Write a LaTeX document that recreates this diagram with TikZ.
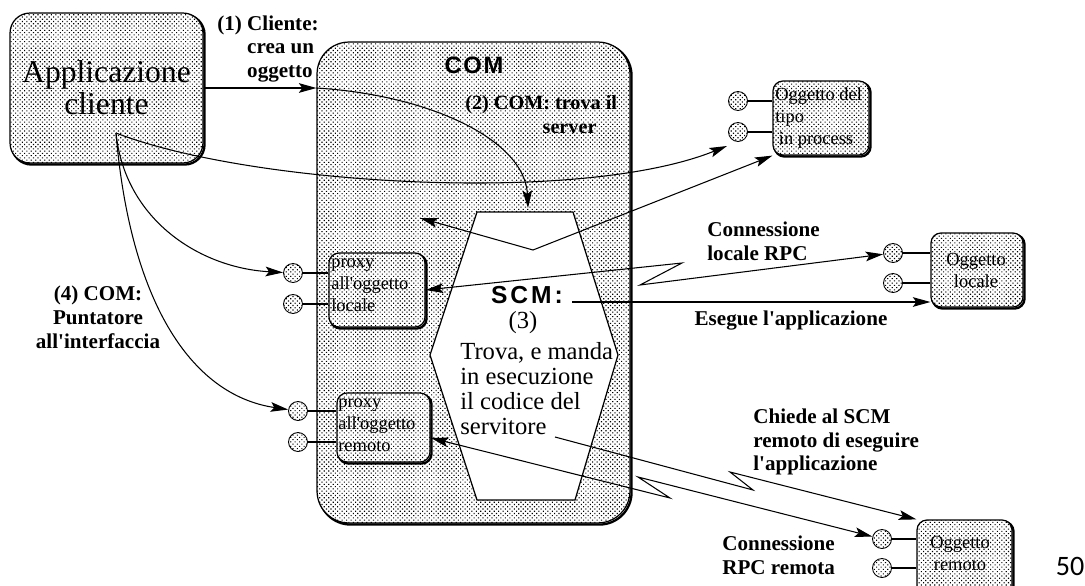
\documentclass[tikz,border=0pt]{standalone}
\usepackage{fontspec}
\setmainfont{Liberation Serif}[Ligatures=TeXOff]
\newfontfamily\headsans{Liberation Sans}[Ligatures=TeXOff]
\newfontfamily\slidenum{Carlito}
\usetikzlibrary{arrows.meta,patterns.meta}

\tikzset{
  tip/.tip={Stealth[length=10pt,width=5.5pt,inset=2pt]},
  arr/.style={line width=0.6pt, -tip},
  arrb/.style={line width=0.6pt, tip-tip},
  stem/.style={line width=0.6pt},
  dots/.style={pattern={Dots[angle=45,distance=1.8pt,radius=0.45pt]}},
  shadowbox/.style={
    preaction={draw, line width=1.3pt, transform canvas={shift={(0.9pt,-0.9pt)}}},
    preaction={fill=white},
    dots, draw, line width=0.7pt, inner sep=0pt, rounded corners=#1},
  shadowbox/.default=0.2cm,
  iface/.style={circle, draw, line width=0.5pt, minimum size=0.38cm, inner sep=0pt,
    preaction={fill=white}, dots},
  lab/.style={font=\bfseries\fontsize{12}{13.6}\selectfont, inner sep=0pt},
  boxtext/.style={font=\fontsize{10.5}{12.5}\selectfont, inner sep=0pt},
  scmtext/.style={font=\fontsize{14}{14.2}\selectfont, inner sep=0pt},
}

\begin{document}
\begin{tikzpicture}[x=0.02cm,y=-0.02cm]
\useasboundingbox (0,0) rectangle (1085,585);
\clip (0,0) rectangle (1085,585);

% client application
\node[shadowbox=0.4cm, minimum width=3.86cm, minimum height=3cm, align=center,
      font=\fontsize{18}{18.1}\selectfont] (app) at (106.5,88) {Applicazione\\cliente};

% COM runtime
\node[shadowbox=0.64cm, minimum width=6.26cm, minimum height=9.62cm] (com) at (473.5,282.5) {};
\node[font=\headsans\bfseries\fontsize{13.5}{15}\selectfont\addfontfeature{LetterSpace=7}, inner sep=0pt] (comlbl) at (474,65) {COM};

% service control manager
\coordinate (hA) at (477,212);
\coordinate (hB) at (573,212);
\coordinate (hC) at (618,355);
\coordinate (hD) at (575,500);
\coordinate (hE) at (477,500);
\coordinate (hF) at (430,355);
\draw[line width=0.7pt, fill=white] (hA) -- (hB) -- (hC) -- (hD) -- (hE) -- (hF) -- cycle;
\node[font=\headsans\bfseries\fontsize{14}{15}\selectfont\addfontfeature{LetterSpace=12}, inner sep=0pt] (scm) at (527,295) {SCM:};
\node[scmtext] (scmnum) at (523,323) {(3)};
\node[scmtext, anchor=west, align=left] (scmtxt) at (460,389)
  {Trova, e manda\\in esecuzione\\il codice del\\servitore};

% local proxy
\node[shadowbox, minimum width=1.92cm, minimum height=1.48cm] (proxyL) at (377,290) {};
\node[boxtext, anchor=west, align=left] (proxyLtxt) at (331,285) {proxy\\all'oggetto\\locale};
\node[iface] (pl1) at (293,273) {};
\node[iface] (pl2) at (293,304) {};
\draw[stem] (pl1.east) -- (pl1 -| proxyL.west);
\draw[stem] (pl2.east) -- (pl2 -| proxyL.west);

% remote proxy
\node[shadowbox, minimum width=1.86cm, minimum height=1.38cm] (proxyR) at (383.5,427.5) {};
\node[boxtext, anchor=west, align=left] (proxyRtxt) at (338,425) {proxy\\all'oggetto\\remoto};
\node[iface] (pr1) at (298,411) {};
\node[iface] (pr2) at (298,442) {};
\draw[stem] (pr1.east) -- (pr1 -| proxyR.west);
\draw[stem] (pr2.east) -- (pr2 -| proxyR.west);

% in-process object
\node[shadowbox, minimum width=1.92cm, minimum height=1.48cm] (inproc) at (821,118) {};
\node[boxtext, anchor=west, align=left] (inproctxt) at (775,118) {Oggetto del\\tipo\\\hspace*{2pt}in process};
\node[iface] (ip1) at (738,101) {};
\node[iface] (ip2) at (738,132) {};
\draw[stem] (ip1.east) -- (ip1 -| inproc.west);
\draw[stem] (ip2.east) -- (ip2 -| inproc.west);

% local object
\node[shadowbox, minimum width=1.84cm, minimum height=1.48cm] (locobj) at (977,270) {};
\node[boxtext, align=center] (locobjtxt) at (976,270) {Oggetto\\locale};
\node[iface] (ol1) at (893,253) {};
\node[iface] (ol2) at (893,283) {};
\draw[stem] (ol1.east) -- (ol1 -| locobj.west);
\draw[stem] (ol2.east) -- (ol2 -| locobj.west);

% remote object
\node[shadowbox, minimum width=1.9cm, minimum height=2cm] (remobj) at (964.5,570) {};
\node[boxtext, align=center] (remobjtxt) at (960,553) {Oggetto\\remoto};
\node[iface] (or1) at (882,539) {};
\node[iface] (or2) at (882,568) {};
\draw[stem] (or1.east) -- (or1 -| remobj.west);
\draw[stem] (or2.east) -- (or2 -| remobj.west);

% step labels
\node[lab, anchor=west, align=left] (step1) at (217,49)
  {(1) Cliente:\\\hphantom{(1) }crea un\\\hphantom{(1) }oggetto};
\node[lab, anchor=west, align=left, font=\bfseries\fontsize{11.5}{13.6}\selectfont] (step2) at (465,115)
  {(2) COM: trova il\\\hspace*{44pt}server};
\node[lab, align=center] (step4) at (98,317) {(4) COM:\\Puntatore\\all'interfaccia};
\node[lab, anchor=west, align=left] (rpcL) at (707,241) {Connessione\\locale RPC};
\node[lab] (esegue) at (791,321) {Esegue l'applicazione};
\node[lab, anchor=west, align=left] (chiede) at (753,442) {Chiede al SCM\\remoto di eseguire\\l'applicazione};
\node[lab, anchor=west, align=left] (rpcR) at (722,555) {Connessione\\RPC remota};
\node[font=\slidenum\fontsize{16}{16}\selectfont, inner sep=0pt] (pgnum) at (1070,566) {50};

% (1) create request and (2) server lookup
\coordinate (comin) at (app.east -| com.west);
\draw[arr] (app.east) -- (comin);
\coordinate (scmtop) at (528,208);
\draw[arr] (comin) .. controls (430,95) and (525,140) .. (scmtop);

% (4) interface pointers handed back to the client
\coordinate (orig) at (116,133);
\coordinate (iptip) at (727,146);
\draw[arr] (orig) .. controls (250,185) and (580,205) .. (iptip);
\draw[arr] (orig) .. controls (125,220) and (200,268) .. (pl1);
\draw[arr] (orig) .. controls (130,300) and (190,395) .. (pr1);

% in-process activation
\coordinate (vleft) at (420,218);
\coordinate (vmid) at (533,250);
\draw[arrb] (vleft) -- (vmid) -- (inproc.south west);

% local RPC link
\coordinate (lzA) at (682,263);
\coordinate (lzB) at (640,285);
\draw[arrb] (proxyL.east) -- (lzA) -- (lzB) -- (ol1);

% launch of the local server
\coordinate (scmout) at (572,302);
\draw[arr] (scmout) -- (scmout -| locobj.west);

% request to the remote SCM
\coordinate (srvout) at (555,437);
\coordinate (rzA) at (753,490);
\coordinate (rzB) at (730,472);
\draw[arr] (srvout) -- (rzA) -- (rzB) -- (remobj.north west);

% remote RPC link
\coordinate (prtip) at (431,438);
\coordinate (rzC) at (670,498);
\coordinate (rzD) at (638,477);
\draw[arrb] (prtip) -- (rzC) -- (rzD) -- (or1);
\end{tikzpicture}
\end{document}
